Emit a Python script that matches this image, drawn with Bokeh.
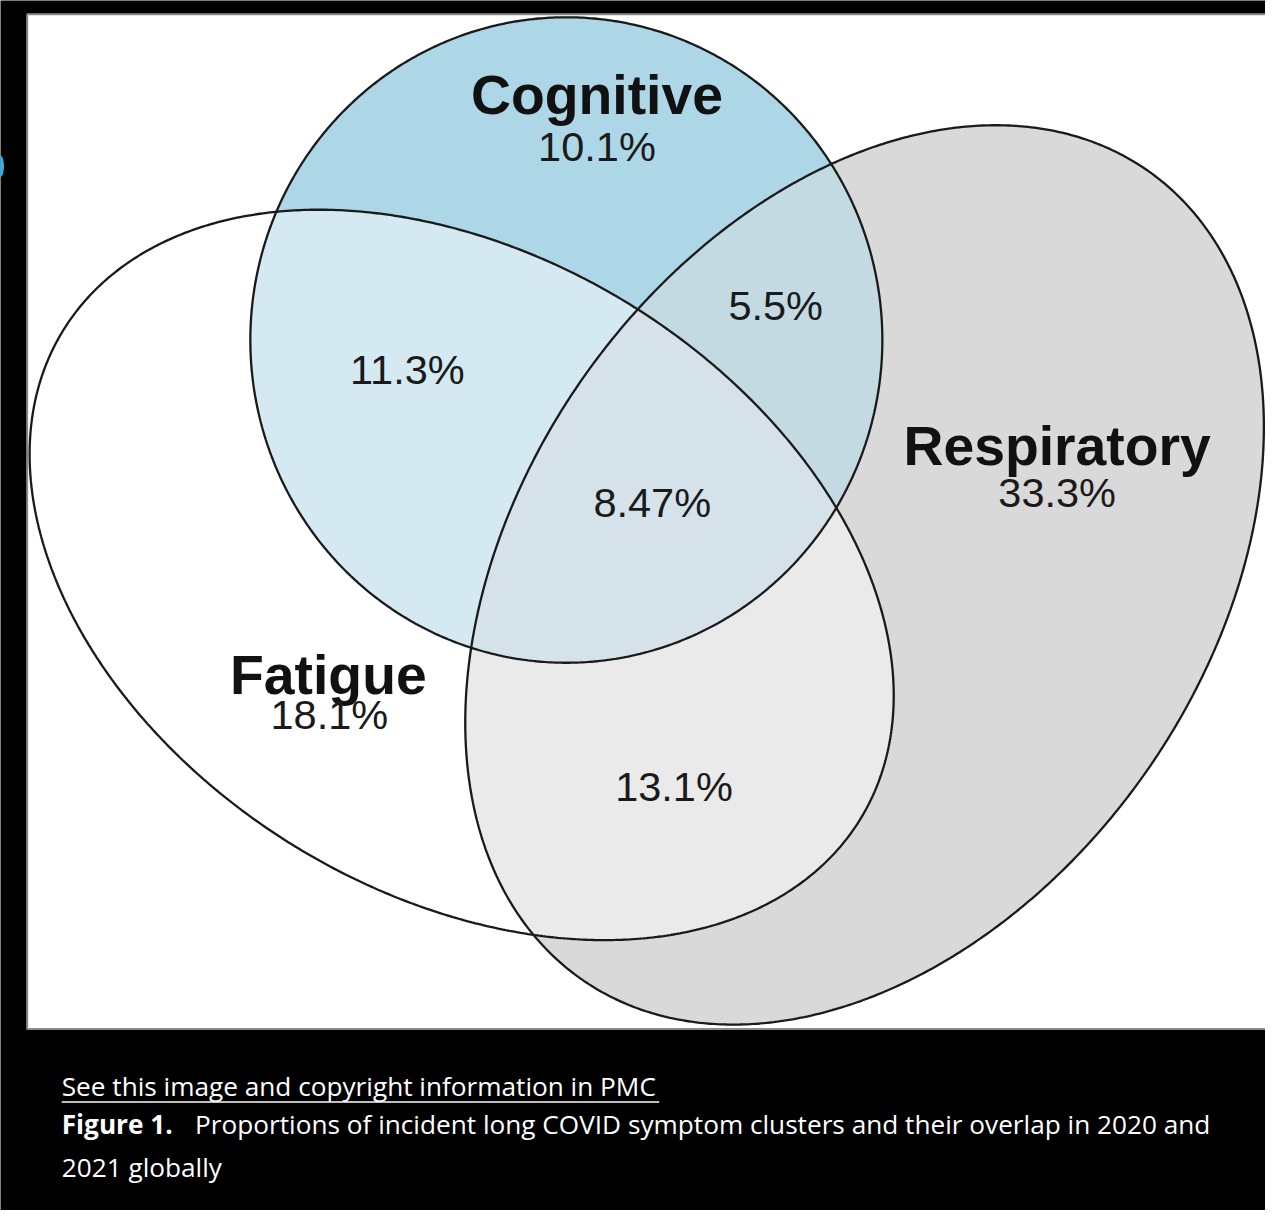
import numpy as np
from bokeh.plotting import figure
from bokeh.models import Range1d
from bokeh.core.properties import value
from bokeh.embed import file_html
from bokeh.resources import INLINE

# ---------------- data ----------------
set_names = ["Cognitive", "Fatigue", "Respiratory"]
set_pcts = [10.1, 18.1, 33.3]
overlap_names = ["Cognitive & Fatigue", "Cognitive & Respiratory",
                 "Fatigue & Respiratory", "All three"]
overlap_pcts = [11.3, 5.5, 13.1, 8.47]
caption_link = "See this image and copyright information in PMC"
caption_fig = "Figure 1."
caption_line1 = "Proportions of incident long COVID symptom clusters and their overlap in 2020 and"
caption_line2 = "2021 globally"

# ---------------- layout (reference pixel coordinates, y down) ----------------
REF_W, REF_H = 1281, 1226
W, H = 1265, 1210
S = W / REF_W  # screen px per reference px

# shape geometry: cx, cy, a, b, angle (deg, screen), egg factor
shape_geom = {
    "Cognitive":   (573, 344, 320, 327, 0.0, 0.0),
    "Fatigue":     (467, 582, 473.5, 322.7, 31.5, 0.0),
    "Respiratory": (875, 582, 500, 348, -55.0, 0.0),
}
name_pos = {"Cognitive": (604, 118), "Fatigue": (332, 705), "Respiratory": (1070, 473)}
pct_pos = {"Cognitive": (604, 164), "Fatigue": (333, 740), "Respiratory": (1070, 515)}
overlap_pos = [(412, 390), (785, 325), (682, 813), (660, 525)]
NAME_FS, PCT_FS, CAP_FS = 56, 42, 26.5
BASE_SHIFT = 0.39  # em, compensates the renderer's baseline placement

region_colors = {
    "Cognitive": "#add6e6", "Fatigue": "#ffffff", "Respiratory": "#d9d9d9",
    "CF": "#d4e9f1", "CR": "#c4dae2", "FR": "#eaeaea", "CFR": "#d6e2e9",
}


def outline(cx, cy, a, b, ang, k, n=720):
    t = np.linspace(0, 2 * np.pi, n, endpoint=False)
    u = a * np.cos(t)
    v = b * np.sin(t) * (1 + k * np.cos(t))
    th = np.deg2rad(ang)
    x = cx + u * np.cos(th) - v * np.sin(th)
    y = cy + u * np.sin(th) + v * np.cos(th)
    return list(zip(x, y))


def area(poly):
    s = 0.0
    for i in range(len(poly)):
        x1, y1 = poly[i]
        x2, y2 = poly[(i + 1) % len(poly)]
        s += x1 * y2 - x2 * y1
    return s / 2


def clip(subject, clipper):
    orient = 1 if area(clipper) > 0 else -1

    def inside(p, a, b):
        return orient * ((b[0] - a[0]) * (p[1] - a[1]) - (b[1] - a[1]) * (p[0] - a[0])) >= 0

    def inter(p, q, a, b):
        x1, y1 = p; x2, y2 = q; x3, y3 = a; x4, y4 = b
        den = (x1 - x2) * (y3 - y4) - (y1 - y2) * (x3 - x4)
        if den == 0:
            return q
        t = ((x1 - x3) * (y3 - y4) - (y1 - y3) * (x3 - x4)) / den
        return (x1 + t * (x2 - x1), y1 + t * (y2 - y1))

    out = subject
    n = len(clipper)
    for i in range(n):
        a, b = clipper[i], clipper[(i + 1) % n]
        inp = out
        out = []
        if not inp:
            break
        s = inp[-1]
        for e in inp:
            if inside(e, a, b):
                if not inside(s, a, b):
                    out.append(inter(s, e, a, b))
                out.append(e)
            elif inside(s, a, b):
                out.append(inter(s, e, a, b))
            s = e
    return out


shapes = {nm: outline(*shape_geom[nm]) for nm in set_names}
C, F, R = shapes["Cognitive"], shapes["Fatigue"], shapes["Respiratory"]
CF = clip(C, F)
CR = clip(C, R)
FR = clip(F, R)
CFR = clip(CF, R)

p = figure(width=W, height=H, output_backend="svg", toolbar_location=None,
           x_range=Range1d(0, REF_W), y_range=Range1d(REF_H, 0),
           min_border=0, background_fill_color="black", border_fill_color="black",
           outline_line_color=None)
p.axis.visible = False
p.grid.visible = False

# white panel
p.quad(left=[27], right=[1300], top=[14], bottom=[1042],
       fill_color="white", line_color="#8a8a8a", line_width=2)
# small blue mark at the left edge of the screenshot
p.ellipse(x=[0], y=[168], width=[7], height=[22], fill_color="#2fb2ea", line_color=None)


def fill(poly, color):
    p.patch([q[0] for q in poly], [q[1] for q in poly], fill_color=color, line_color=None)


fill(F, region_colors["Fatigue"])
fill(R, region_colors["Respiratory"])
fill(C, region_colors["Cognitive"])
fill(FR, region_colors["FR"])
fill(CF, region_colors["CF"])
fill(CR, region_colors["CR"])
fill(CFR, region_colors["CFR"])

for nm in set_names:
    poly = shapes[nm] + [shapes[nm][0]]
    p.line([q[0] for q in poly], [q[1] for q in poly], line_color="#1a1a1a", line_width=2.3)


def ty(y, fs):
    return y - BASE_SHIFT * fs


# labels
p.text(x=[name_pos[n][0] for n in set_names], y=[ty(name_pos[n][1], NAME_FS) for n in set_names],
       text=set_names, text_font=value("Liberation Sans"), text_font_style="bold",
       text_font_size=f"{NAME_FS * S:.1f}px", text_align="center", text_baseline="alphabetic",
       text_color="#111111")
p.text(x=[pct_pos[n][0] for n in set_names], y=[ty(pct_pos[n][1], PCT_FS) for n in set_names],
       text=[f"{v}%" for v in set_pcts], text_font=value("Liberation Sans"),
       text_font_size=f"{PCT_FS * S:.1f}px", text_align="center", text_baseline="alphabetic",
       text_color="#1a1a1a")
p.text(x=[q[0] for q in overlap_pos], y=[ty(q[1], PCT_FS) for q in overlap_pos],
       text=[f"{v}%" for v in overlap_pcts], text_font=value("Liberation Sans"),
       text_font_size=f"{PCT_FS * S:.1f}px", text_align="center", text_baseline="alphabetic",
       text_color="#1a1a1a")

# caption
cap_font = value("Open Sans")
cfs = f"{CAP_FS * S:.1f}px"
p.text(x=[62], y=[ty(1110, CAP_FS)], text=[caption_link], text_font=cap_font, text_font_size=cfs,
       text_color="white", text_baseline="alphabetic")
p.segment(x0=[62], y0=[1116], x1=[667], y1=[1116], line_color="white", line_width=1.5)
p.text(x=[62], y=[ty(1149, CAP_FS)], text=[caption_fig], text_font=cap_font, text_font_style="bold",
       text_font_size=cfs, text_color="white", text_baseline="alphabetic")
p.text(x=[197], y=[ty(1149, CAP_FS)], text=[caption_line1], text_font=cap_font, text_font_size=cfs,
       text_color="white", text_baseline="alphabetic")
p.text(x=[62], y=[ty(1192, CAP_FS)], text=[caption_line2], text_font=cap_font, text_font_size=cfs,
       text_color="white", text_baseline="alphabetic")

open("out.html", "w").write(file_html(p, INLINE))
